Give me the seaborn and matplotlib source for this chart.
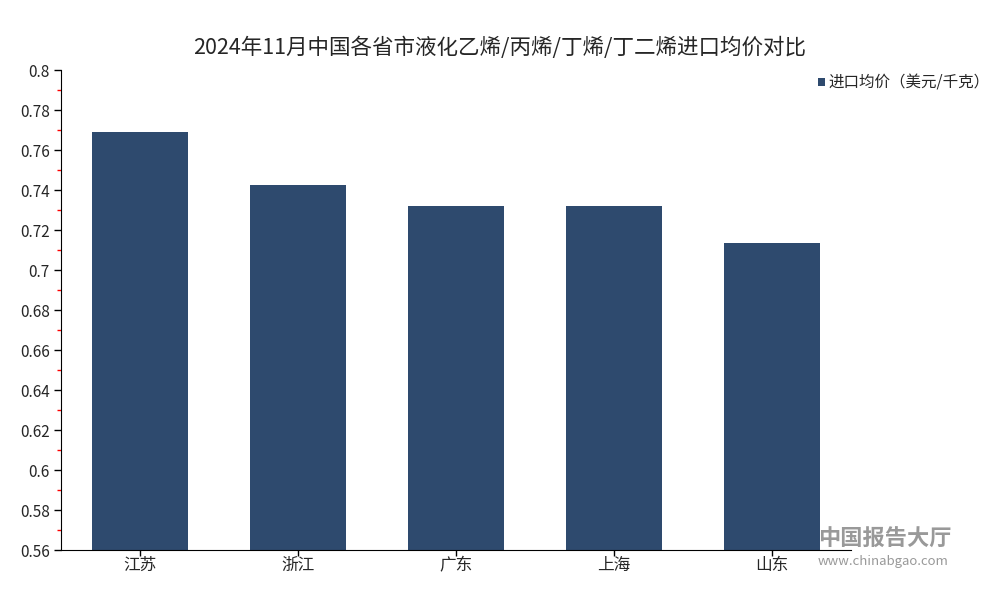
import matplotlib
matplotlib.use("Agg")
import matplotlib.pyplot as plt
import seaborn as sns
import pandas as pd
from matplotlib.ticker import MultipleLocator

# data
provinces = ["江苏", "浙江", "广东", "上海", "山东"]
prices = [0.769, 0.7425, 0.732, 0.732, 0.7135]
series_name = "进口均价（美元/千克）"
title = "2024年11月中国各省市液化乙烯/丙烯/丁烯/丁二烯进口均价对比"

df = pd.DataFrame({"province": provinces, "price": prices, "series": series_name})

sns.set_style("white")
plt.rcParams["font.family"] = ["Noto Sans CJK SC", "DejaVu Sans"]

fig = plt.figure(figsize=(10, 6), dpi=100)
ax = fig.add_axes([0.061, 0.083, 0.79, 0.8])

sns.barplot(
    x="province",
    y="price",
    hue="series",
    data=df,
    palette=["#2e4a6e"],
    width=0.61,
    saturation=1,
    linewidth=0,
    ax=ax
)

ax.set_ylim(0.56, 0.8)
ax.set_xlim(-0.5, 4.5)
ax.yaxis.set_major_locator(MultipleLocator(0.02))
ax.yaxis.set_minor_locator(MultipleLocator(0.01))
ax.set_yticklabels([("%.2f" % v).rstrip("0").rstrip(".") for v in ax.get_yticks()])
ax.tick_params(axis="y", which="major", left=True, length=5, width=1,
               color="black", labelsize=11, pad=3)
ax.tick_params(axis="y", which="minor", left=True, length=3, width=1,
               color="red")
ax.tick_params(axis="x", bottom=True, length=4, width=1, color="black",
               labelsize=12, pad=1)

ax.set_xlabel("")
ax.set_ylabel("")
for side in ["top", "right"]:
    ax.spines[side].set_visible(False)
ax.spines["left"].set_color("black")
ax.spines["bottom"].set_color("black")

ax.set_title(title, fontsize=15.5, pad=12, x=0.555)

leg = ax.legend(
    loc="upper left",
    bbox_to_anchor=(0.94, 1.02),
    frameon=False,
    fontsize=11.2,
    handlelength=0.45,
    handleheight=0.45,
    handletextpad=0.25,
)

# watermark
fig.text(0.818, 0.09, "中国报告大厅", fontsize=16, color="#999999", fontweight="bold")
fig.text(0.818, 0.058, "www.chinabgao.com", fontsize=9.5, color="#999999")

fig.savefig("out.png", dpi=100)
